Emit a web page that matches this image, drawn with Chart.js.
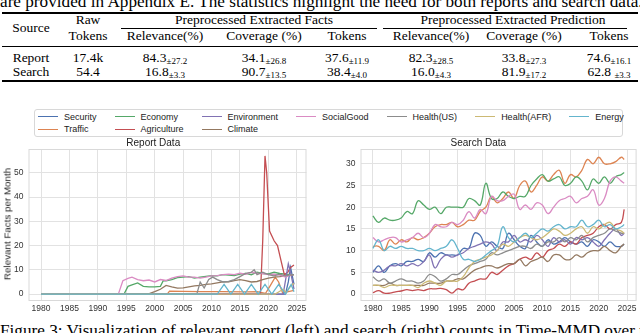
<!DOCTYPE html>
<html>
<head>
<meta charset="utf-8">
<script src="https://cdn.jsdelivr.net/npm/chart.js@4/dist/chart.umd.min.js"></script>
<style>
  body { margin: 0; width: 640px; height: 333px; overflow: hidden; background: #fff; position: relative; font-family: "Liberation Serif", serif; color: #000; }
  .abs { position: absolute; white-space: nowrap; }
  .c { position: absolute; white-space: nowrap; transform: translateX(-50%); font-size: 13.5px; line-height: 14px; }
  .pm { font-size: 9px; vertical-align: -1.5px; }
  .rule { position: absolute; background: #000; }
  #legend { position: absolute; left: 34px; top: 109px; width: 589px; height: 28px; border: 1px solid #d8d8d8; border-radius: 3px;
            font-family: "Liberation Sans", Arial, sans-serif; font-size: 9px; color: #222; box-sizing: border-box;
            display: grid; grid-template-rows: 12.6px 12.6px; column-gap: 18px; padding: 0 3px; align-content: center; }
  .item { display: flex; align-items: center; }
  .item i { display: inline-block; width: 20px; height: 1.5px; margin-right: 6px; }
  .ylab { position: absolute; left: 7.3px; top: 224px; white-space: nowrap; transform: translate(-50%, -50%) rotate(-90deg);
          font-family: "Liberation Sans", Arial, sans-serif; font-size: 9.8px; color: #222; }
  canvas { position: absolute; }
</style>
</head>
<body>
<div class="abs" style="left:0; top:-6.9px; font-size:17.2px; line-height:17.2px;">are provided in Appendix E. The statistics highlight the need for both reports and search data.</div>

<div class="rule" style="left:2px; width:636px; top:12px; height:1.5px;"></div>
<div class="c" style="left:31px; top:21px;">Source</div>
<div class="c" style="left:88px; top:13px;">Raw</div>
<div class="c" style="left:88px; top:29px;">Tokens</div>
<div class="c" style="left:254px; top:13px;">Preprocessed Extracted Facts</div>
<div class="c" style="left:513px; top:13px;">Preprocessed Extracted Prediction</div>
<div class="rule" style="left:121px; width:256px; top:27.5px; height:0.8px;"></div>
<div class="rule" style="left:383px; width:244px; top:27.5px; height:0.8px;"></div>
<div class="c" style="left:165px; top:29px;">Relevance(%)</div>
<div class="c" style="left:264px; top:29px;">Coverage (%)</div>
<div class="c" style="left:347px; top:29px;">Tokens</div>
<div class="c" style="left:431px; top:29px;">Relevance(%)</div>
<div class="c" style="left:524px; top:29px;">Coverage (%)</div>
<div class="c" style="left:609px; top:29px;">Tokens</div>
<div class="rule" style="left:2px; width:636px; top:45.5px; height:0.8px;"></div>
<div class="c" style="left:31px; top:51px;">Report</div>
<div class="c" style="left:88px; top:51px;">17.4k</div>
<div class="c" style="left:165px; top:51px;">84.3<span class="pm">±27.2</span></div>
<div class="c" style="left:264px; top:51px;">34.1<span class="pm">±26.8</span></div>
<div class="c" style="left:347px; top:51px;">37.6<span class="pm">±11.9</span></div>
<div class="c" style="left:431px; top:51px;">82.3<span class="pm">±28.5</span></div>
<div class="c" style="left:524px; top:51px;">33.8<span class="pm">±27.3</span></div>
<div class="c" style="left:609px; top:51px;">74.6<span class="pm">±16.1</span></div>
<div class="c" style="left:31px; top:64.5px;">Search</div>
<div class="c" style="left:88px; top:64.5px;">54.4</div>
<div class="c" style="left:165px; top:64.5px;">16.8<span class="pm">±3.3</span></div>
<div class="c" style="left:264px; top:64.5px;">90.7<span class="pm">±13.5</span></div>
<div class="c" style="left:347px; top:64.5px;">38.4<span class="pm">±4.0</span></div>
<div class="c" style="left:431px; top:64.5px;">16.0<span class="pm">±4.3</span></div>
<div class="c" style="left:524px; top:64.5px;">81.9<span class="pm">±17.2</span></div>
<div class="c" style="left:609px; top:64.5px;">62.8 <span class="pm">±3.3</span></div>
<div class="rule" style="left:2px; width:636px; top:80px; height:1.5px;"></div>

<div id="legend"></div>
<canvas id="reportChart" width="310" height="181" style="left:0; top:137px;"></canvas>
<canvas id="searchChart" width="320" height="181" style="left:320px; top:137px;"></canvas>
<div class="ylab">Relevant Facts per Month</div>

<div class="abs" style="left:0; top:322px; font-size:17.2px; line-height:17.2px;">Figure 3: Visualization of relevant report (left) and search (right) counts in Time-MMD over time.</div>

<script>
"use strict";

// series names and seaborn "deep" colours, in plotting order
const seriesNames = ['Security', 'Traffic', 'Economy', 'Agriculture', 'Environment', 'Climate', 'SocialGood', 'Health(US)', 'Health(AFR)', 'Energy'];
const seriesColors = ['#4C72B0', '#DD8452', '#55A868', '#C44E52', '#8172B3', '#937860', '#DA8BC3', '#8C8C8C', '#CCB974', '#64B5CD'];

// tick labels
const yearTicks = [1980, 1985, 1990, 1995, 2000, 2005, 2010, 2015, 2020, 2025];
const reportTicks = [0, 10, 20, 30, 40, 50];
const searchTicks = [0, 5, 10, 15, 20, 25, 30];

// Report Data: [year, relevant facts per month]
const reportSecurity = [[1980, 0], [2023.0, 0], [2023.5, 5], [2023.9, 11], [2024.5, 4]];
const reportTraffic = [[1980, 0], [2002.2, 0], [2002.6, 1.2], [2005, 1.1], [2008, 1.0], [2012, 1.0], [2016, 0.9], [2018, 1.0], [2019.5, 0.3], [2020.2, 3], [2021.2, 7], [2021.8, 5], [2022.5, 0.5], [2023.5, 1], [2024.5, 1.5]];
const reportEconomy = [[1980, 0], [1994.6, 0], [1995.3, 3.2], [1996, 3.8], [1997, 4.6], [1998, 3.2], [1999, 3], [2000, 3], [2001, 3.2], [2001.5, 5.5], [2002, 5.5], [2003, 6], [2004, 6.8], [2005, 7], [2006, 7.2], [2007, 6.6], [2008, 7], [2009, 7.3], [2010, 7.6], [2011, 7.5], [2012, 8], [2013, 7.8], [2014, 7.6], [2015, 8.2], [2016, 8.5], [2017, 8], [2018, 9], [2019, 8.5], [2020, 8.3], [2021, 9], [2022, 8.5], [2023, 8.2], [2024, 8], [2024.5, 8]];
const reportAgriculture = [[1980, 0], [2018.6, 0], [2019.0, 22], [2019.4, 57], [2019.7, 50], [2020.2, 26], [2021, 22], [2021.6, 20], [2022.3, 13], [2022.8, 8], [2023.4, 9], [2023.9, 11], [2024.5, 12]];
const reportEnvironment = [[1980, 0], [2022.6, 0], [2023.5, 12.5], [2023.9, 9], [2024.5, 2]];
const reportClimate = [[1980, 0], [1998.8, 0], [2000, 1], [2001, 2], [2002, 3.6], [2003, 3], [2004, 2.5], [2005, 2.6], [2006, 3], [2007, 3.4], [2008, 3.6], [2009, 4], [2010, 4.2], [2011, 4.6], [2012, 5], [2013, 5], [2014, 5.6], [2015, 6], [2016, 5.6], [2017, 5], [2018, 5.2], [2019, 6], [2020, 6.6], [2021, 7], [2022, 7.2], [2023, 7.5], [2024, 7.8], [2024.5, 8]];
const reportSocialGood = [[1980, 0], [1993.6, 0], [1994.4, 5.5], [1995.3, 6.5], [1996, 7], [1997, 6], [1998, 5.5], [1999, 5.8], [2000, 5], [2001, 6], [2002, 5.6], [2003, 6.6], [2004, 7.2], [2005, 7.5], [2006, 7], [2007, 7], [2008, 6.6], [2009, 7], [2010, 7.5], [2011, 7.6], [2012, 8], [2013, 8.2], [2014, 8], [2015, 8.6], [2016, 8.2], [2017, 9], [2018, 8.6], [2019, 8.4], [2020, 8], [2021, 8.2], [2022, 7.8], [2023, 7], [2024, 8], [2024.5, 8]];
const reportHealthUS = [[1980, 0], [2007.4, 0], [2008, 5], [2008.7, 2.5], [2009.5, 6], [2010.2, 7], [2011, 6], [2012, 5], [2013, 5.2], [2014, 6], [2015, 7.2], [2016, 8.5], [2017, 9], [2017.5, 10], [2018, 8], [2019, 9], [2020, 8], [2021, 7.5], [2022, 8.2], [2023, 7.5], [2024, 8], [2024.5, 8]];
const reportHealthAFR = [[1980, 0], [2021.2, 0], [2022, 1.2], [2022.6, 2], [2023.1, 0.5], [2023.8, 3], [2024.5, 4.5]];
const reportEnergy = [[1980, 0], [2011, 0], [2012.2, 4], [2013.4, 0], [2014.6, 4], [2015.8, 0], [2017, 4], [2018.2, 0], [2019.4, 4], [2020.6, 0], [2021.8, 4], [2023, 0], [2024, 4], [2024.5, 1]];

// Search Data: yearly values
const searchYears = [1980, 1981, 1982, 1983, 1984, 1985, 1986, 1987, 1988, 1989, 1990, 1991, 1992, 1993, 1994, 1995, 1996, 1997, 1998, 1999, 2000, 2001, 2002, 2003, 2004, 2005, 2006, 2007, 2008, 2009, 2010, 2011, 2012, 2013, 2014, 2015, 2016, 2017, 2018, 2019, 2020, 2021, 2022, 2023, 2024, 2024.5];
const searchSecurity = [5, 6.5, 5, 6.5, 7, 6.5, 7.5, 7.5, 8, 7.5, 9.5, 8.5, 9.5, 9, 9, 9, 10.5, 10.5, 14, 13.5, 11, 12, 11, 10.5, 14, 12.5, 11, 10.5, 13.5, 12, 11, 12.5, 11.5, 12, 13, 12, 11.5, 12, 11, 12.5, 12, 11, 12, 11, 11, 11.5];
const searchTraffic = [11, 11, 10, 12.5, 11.5, 12.5, 12, 13, 12.5, 13, 14, 15.5, 16, 16, 16.5, 15.5, 16, 17, 17, 19, 20, 22.5, 21, 22, 23.5, 22, 25, 26, 23.5, 25, 27, 26, 27.5, 28.5, 25.5, 27.5, 27, 28.5, 31, 30, 31.5, 30, 30, 30.5, 31.5, 31];
const searchEconomy = [18, 16.5, 17.5, 17, 17, 17.5, 19, 18.5, 21.5, 20.5, 19.5, 20, 18.5, 20, 20, 20, 20, 22, 21.5, 20.5, 25.5, 22, 22, 23.5, 22.5, 22, 22.5, 22.5, 25, 26.5, 27.5, 26, 26.5, 27, 25, 25.5, 27, 26, 24, 26.5, 25.5, 27, 25.5, 27, 27.5, 28];
const searchAgriculture = [0.3, 0.8, 0.2, 0.2, 0.5, 0.7, 1, 0.8, 1, 0.8, 1.2, 1.2, 1.3, 1, 0.2, 1.2, 1, 2.5, 3, 3.5, 3.5, 5, 4.5, 5.5, 6.5, 7, 8, 8.5, 8, 9.5, 8.5, 10, 10.5, 11.5, 11, 12, 11.5, 13, 13.5, 14, 15.5, 16, 15, 16, 16.5, 19.5];
const searchEnvironment = [5.5, 5, 5.5, 6.5, 6.5, 7, 6.5, 7, 6.5, 7.5, 9, 6, 8, 9, 8.5, 9, 9.5, 10.5, 11, 11.5, 12, 11.5, 10, 12, 12, 13.5, 12, 12.5, 12, 13.5, 12.5, 11, 13, 12, 12.5, 11.5, 13, 12.5, 13, 12, 11, 12.5, 14, 15, 13.5, 14];
const searchClimate = [2, 2, 2, 2.5, 2, 2, 2, 2, 2, 2, 2.5, 2.5, 2.5, 3, 3, 3.5, 3.5, 4.5, 5.5, 6, 6.5, 6.5, 6, 6.5, 7, 7, 8, 6.5, 7.5, 8, 8.5, 7.5, 9, 9, 8, 8, 9, 8.5, 9.5, 10, 10, 11, 10, 9.5, 11, 11.5];
const searchSocialGood = [13, 12, 12.5, 13, 13, 12, 12.5, 13, 14, 13, 14, 16, 15.5, 15.5, 16.5, 16, 17, 19, 17.5, 19.5, 18.5, 22.5, 21.5, 21.5, 22.5, 23, 19.5, 20.5, 19.5, 21, 20.5, 18.5, 20, 21.5, 22, 22.5, 21, 22, 22.5, 24, 20.5, 22, 26, 27, 26, 25.5];
const searchHealthUS = [4, 3, 3.5, 2.5, 3, 3.5, 3, 3, 2.5, 3, 4.5, 4, 3, 3.5, 4.5, 4.5, 5.5, 6.5, 7, 7.5, 8, 9.5, 9, 9.5, 10, 10.5, 11, 11, 10.5, 11.5, 11, 12, 12, 13, 12, 13, 12.5, 13.5, 12, 13, 13.5, 14, 15, 14.5, 14, 14];
const searchHealthAFR = [2, 2, 1.5, 2, 2, 2, 2, 2, 1.5, 2.5, 3, 2.5, 2, 3, 3, 3, 4, 6, 7.5, 8, 8.5, 9, 10, 11.5, 11, 12, 13, 13.5, 13, 12.5, 13, 14, 15, 14.5, 13.5, 14, 15, 15.5, 14, 15.5, 15, 16, 16.5, 15, 14.5, 14];
const searchEnergy = [10.5, 12.5, 10, 11, 10.5, 11, 10.5, 10.5, 10, 10, 10.5, 10, 10.5, 11, 12.5, 10.5, 8, 8, 7.5, 8, 9, 10, 11, 15.5, 13, 12, 13, 14, 13, 14, 15, 14.5, 15.5, 16, 15, 15.5, 15.5, 17, 15.5, 16, 17, 15.5, 16, 15, 15.5, 16];

const reportSeries = [reportSecurity, reportTraffic, reportEconomy, reportAgriculture, reportEnvironment, reportClimate, reportSocialGood, reportHealthUS, reportHealthAFR, reportEnergy];
const searchSeries = [searchSecurity, searchTraffic, searchEconomy, searchAgriculture, searchEnvironment, searchClimate, searchSocialGood, searchHealthUS, searchHealthAFR, searchEnergy];

// legend laid out like matplotlib's ncol=7 (column-major)
function buildLegend() {
    const legend = document.getElementById('legend');
    const nCol = 7, nRow = 2;
    const bigCols = seriesNames.length % nCol;
    let idx = 0;
    for (let col = 0; col < nCol; col++) {
        const rows = col < bigCols ? nRow : 1;
        for (let row = 0; row < rows; row++) {
            const item = document.createElement('div');
            item.className = 'item';
            item.style.gridColumn = col + 1;
            item.style.gridRow = row + 1;
            item.innerHTML = '<i style="background:' + seriesColors[idx] + '"></i>' + seriesNames[idx];
            legend.appendChild(item);
            idx++;
        }
    }
}
buildLegend();

// light frame around the plot area
const frame = {
    id: 'frame',
    beforeDatasetsDraw(chart) {
        const a = chart.chartArea;
        const ctx = chart.ctx;
        ctx.save();
        ctx.strokeStyle = '#d9d9d9';
        ctx.lineWidth = 1;
        ctx.strokeRect(a.left + 0.5, a.top + 0.5, a.width - 1, a.height - 1);
        ctx.restore();
    }
};

const tickFont = { family: '"Liberation Sans", Arial, sans-serif', size: 8.5 };
const gridColor = '#e2e2e2';

function makeOptions(title, yMin, yMax, yTicks, yWidth, rightPad) {
    return {
        responsive: false,
        animation: false,
        layout: { padding: { left: 0, right: rightPad, top: 0, bottom: 0 } },
        plugins: {
            legend: { display: false },
            tooltip: { enabled: false },
            title: {
                display: true, text: title, color: '#222',
                font: { family: '"Liberation Sans", Arial, sans-serif', size: 10, weight: 'normal' },
                padding: { top: 0, bottom: 0 }
            }
        },
        scales: {
            x: {
                type: 'linear', min: 1977.8, max: 2026.7,
                afterBuildTicks: s => { s.ticks = yearTicks.map(v => ({ value: v })); },
                afterFit: s => { s.height = 17; },
                ticks: { font: tickFont, color: '#333', padding: 3, maxRotation: 0, autoSkip: false, callback: v => String(v) },
                grid: { color: gridColor, lineWidth: 1, drawTicks: false },
                border: { display: false }
            },
            y: {
                min: yMin, max: yMax,
                afterBuildTicks: s => { s.ticks = yTicks.map(v => ({ value: v })); },
                afterFit: s => { s.width = yWidth; },
                ticks: { font: tickFont, color: '#333', padding: 5, autoSkip: false, callback: v => String(v) },
                grid: { color: gridColor, lineWidth: 1, drawTicks: false },
                border: { display: false }
            }
        }
    };
}

// Report Data (left)
new Chart(document.getElementById('reportChart'), {
    type: 'line',
    data: {
        datasets: reportSeries.map((pts, i) => ({
            label: seriesNames[i],
            data: pts.map(p => ({ x: p[0], y: p[1] })),
            borderColor: seriesColors[i],
            borderWidth: 1.3,
            pointRadius: 0,
            tension: 0,
            order: seriesNames.length - i
        }))
    },
    options: makeOptions('Report Data', -2.85, 59.85, reportTicks, 28.5, 3.5),
    plugins: [frame]
});

// Search Data (right)
new Chart(document.getElementById('searchChart'), {
    type: 'line',
    data: {
        datasets: searchSeries.map((vals, i) => ({
            label: seriesNames[i],
            data: vals.map((v, k) => ({ x: searchYears[k], y: v })),
            borderColor: seriesColors[i],
            borderWidth: 1.3,
            pointRadius: 0,
            tension: 0.4,
            order: seriesNames.length - i
        }))
    },
    options: makeOptions('Search Data', -1.6, 33.4, searchTicks, 40.5, 3.4),
    plugins: [frame]
});
</script>
</body>
</html>
